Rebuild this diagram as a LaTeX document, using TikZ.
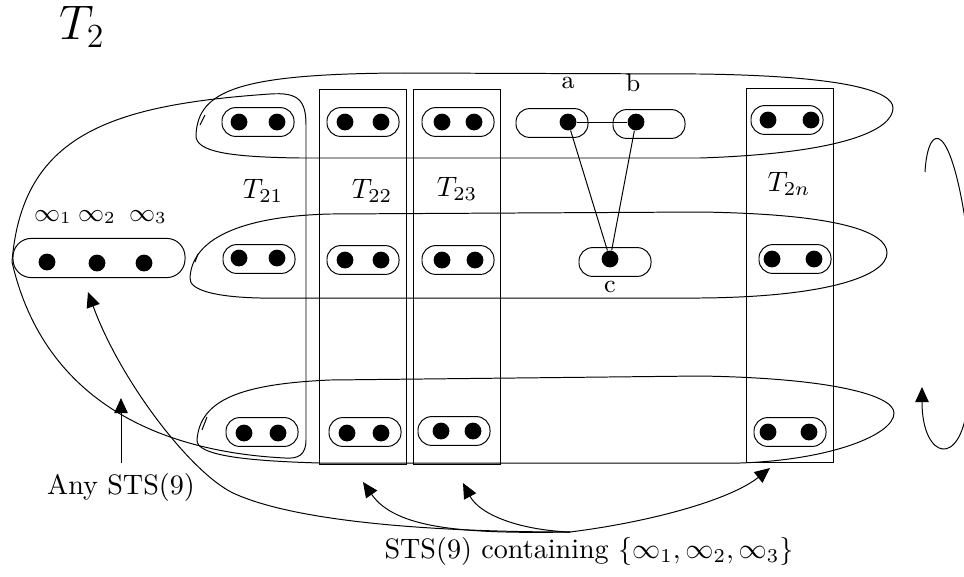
\documentclass[tikz,border=0pt]{standalone}
\usepackage{amsmath,amssymb}
\usepackage{tikz}
\usetikzlibrary{arrows.meta,positioning,calc}
\tikzstyle{pairbox}=[draw, rounded corners=0.17cm, minimum width=0.9cm, minimum height=0.36cm, inner sep=0pt]
\tikzstyle{vertex}=[circle, fill=black, inner sep=0pt, minimum size=0.21cm]
\tikzstyle{pointer}=[-{Triangle[length=0.19cm,width=0.17cm]}]

\begin{document}
\begin{tikzpicture}[x=0.0125cm, y=-0.0125cm, line width=0.35pt]
        \useasboundingbox (0,0) rectangle (964,576);
        \clip (0,0) rectangle (964,576);
        \node[font=\LARGE] (title) at (82,27) {$T_2$};

        % rows
        \draw (196,135) .. controls (198,90) and (240,74) .. (400,73) -- (700,74)
          .. controls (850,76) and (893,92) .. (893,108)
          .. controls (893,128) and (850,153) .. (700,158) -- (300,158)
          .. controls (230,157) and (195,152) .. (196,135) -- cycle;
        \draw (200,125) -- (205,115);
        \draw (190,278) .. controls (192,235) and (250,216) .. (330,214) -- (700,212)
          .. controls (840,214) and (887,232) .. (887,253)
          .. controls (887,275) and (830,297) .. (700,298) -- (260,298)
          .. controls (215,297) and (189,290) .. (190,278) -- cycle;
        \draw (195,262) -- (198,254);
        \draw (197,440) .. controls (200,400) and (240,384) .. (330,380) -- (700,376)
          .. controls (830,378) and (894,395) .. (894,413)
          .. controls (894,435) and (830,460) .. (740,463) -- (320,463)
          .. controls (250,461) and (196,456) .. (197,440) -- cycle;
        \draw (202,430) -- (207,417);

        % T21 together with the infinity points
        \draw (12,262) .. controls (22,135) and (110,105) .. (270,94)
          .. controls (298,92) and (306,100) .. (306,125) -- (306,440)
          .. controls (306,455) and (298,459) .. (285,458)
          .. controls (165,452) and (45,405) .. (12,262) -- cycle;

        % columns
        \draw (319,89) rectangle (406,464);
        \draw (413,89) rectangle (500,464);
        \draw (746,88) rectangle (833,462);
        \node (t21) at (263,191) {$T_{21}$};
        \node (t22) at (372,191) {$T_{22}$};
        \node (t23) at (457,189) {$T_{23}$};
        \node (t2n) at (789,184) {$T_{2n}$};

        % pairs
        \node[pairbox] (p11) at (258,122) {};
        \node[vertex] at (239,122) {}; \node[vertex] at (277,122) {};
        \node[pairbox] (p12) at (363,122) {};
        \node[vertex] at (345,122) {}; \node[vertex] at (381,122) {};
        \node[pairbox] (p13) at (458,122) {};
        \node[vertex] at (442,122) {}; \node[vertex] at (474,122) {};
        \node[pairbox] (p1n) at (787,120) {};
        \node[vertex] at (768,120) {}; \node[vertex] at (811,120) {};
        \node[pairbox] (p21) at (259,259) {};
        \node[vertex] at (239,258) {}; \node[vertex] at (277,258) {};
        \node[pairbox] (p22) at (363,260) {};
        \node[vertex] at (345,260) {}; \node[vertex] at (381,260) {};
        \node[pairbox] (p23) at (458,260) {};
        \node[vertex] at (442,260) {}; \node[vertex] at (475,260) {};
        \node[pairbox] (p2n) at (795,259) {};
        \node[vertex] at (772,259) {}; \node[vertex] at (814,259) {};
        \node[pairbox] (p31) at (262,432) {};
        \node[vertex] at (244,433) {}; \node[vertex] at (278,433) {};
        \node[pairbox] (p32) at (365,432) {};
        \node[vertex] at (347,433) {}; \node[vertex] at (381,433) {};
        \node[pairbox] (p33) at (454,431) {};
        \node[vertex] at (441,431) {}; \node[vertex] at (473,431) {};
        \node[pairbox] (p3n) at (790,432) {};
        \node[vertex] at (768,432) {}; \node[vertex] at (809,432) {};

        % block a, b, c
        \node[pairbox] (boxa) at (552,123) {};
        \node[pairbox] (boxb) at (649,124) {};
        \node[pairbox] (boxc) at (615,262) {};
        \node[vertex] (a) at (568,122) {};
        \node[vertex] (b) at (636,122) {};
        \node[vertex] (c) at (610,259) {};
        \node[font=\small] (la) at (568,83) {a};
        \node[font=\small] (lb) at (633,83) {b};
        \node[font=\small] (lc) at (610,287) {c};
        \draw (a) -- (b);
        \draw (a) -- (c);
        \draw (b) -- (c);

        % infinity points
        \node[draw, rounded corners=0.23cm, minimum width=2.15cm, minimum height=0.49cm]
          (infbox) at (99,258) {};
        \node[vertex] (inf1) at (47,262) {};
        \node[vertex] (inf2) at (97,263) {};
        \node[vertex] (inf3) at (144,263) {};
        \node[font=\small] (linf1) at (53,217) {$\infty_1$};
        \node[font=\small] (linf2) at (97,217) {$\infty_2$};
        \node[font=\small] (linf3) at (148,217) {$\infty_3$};

        % arrows
        \node (any) at (121,487) {Any STS(9)};
        \coordinate (anytip) at (121,398);
        \draw[pointer] (any.north) -- (anytip);
        \node (contain) at (589,551) {STS(9) containing $\{\infty_1,\infty_2,\infty_3\}$};
        \coordinate (src) at (570,532);
        \coordinate (toinf) at (88,292);
        \coordinate (to22) at (363,482);
        \coordinate (to23) at (463,483);
        \coordinate (to2n) at (770,468);
        \draw[pointer] (src) .. controls (450,532) and (300,524) .. (233,493)
          .. controls (190,472) and (120,380) .. (toinf);
        \draw[pointer] (src) .. controls (460,534) and (395,528) .. (to22);
        \draw[pointer] (src) .. controls (520,530) and (480,515) .. (to23);
        \draw[pointer] (src) .. controls (650,522) and (730,500) .. (to2n);

        % rotation
        \draw (925,172) .. controls (928,120) and (952,118) .. (968,240);
        \coordinate (rottip) at (922,387);
        \draw[pointer] (968,400) .. controls (962,470) and (922,460) .. (rottip);
      \end{tikzpicture}
\end{document}
